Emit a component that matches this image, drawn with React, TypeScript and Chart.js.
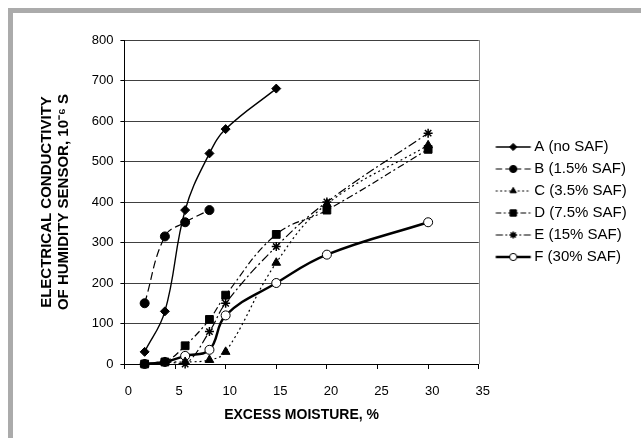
import React, { useEffect, useRef } from 'react';
import { Chart, registerables } from 'chart.js';

Chart.register(...registerables);

// ---- data ----
const xA = [2, 4, 6, 8.4, 10, 15];
const yA = [30, 130, 380, 520, 580, 680];
const xB = [2, 4, 6, 8.4];
const yB = [150, 315, 350, 380];
const xAll = [2, 4, 6, 8.4, 10, 15, 20, 30];
const yC = [0, 5, 5, 10, 30, 250, 395, 540];
const yD = [0, 5, 45, 110, 170, 320, 380, 530];
const yE = [0, 5, 0, 80, 150, 290, 400, 570];
const yF = [0, 5, 20, 35, 120, 200, 270, 350];
const seriesLabels = ['A (no SAF)', 'B (1.5% SAF)', 'C (3.5% SAF)', 'D (7.5% SAF)', 'E (15% SAF)', 'F (30% SAF)'];
const xTitle = 'EXCESS MOISTURE, %';
const yTitle = ['ELECTRICAL CONDUCTIVITY', 'OF HUMIDITY SENSOR, 10\u207B\u2076 S'];

const pts = (xs: number[], ys: number[]) => xs.map((x, i) => ({ x, y: ys[i] }));

type Style = { dash: number[]; width: number; marker: string; fill: string; radius: number };
const styles: Style[] = [
  { dash: [], width: 1.4, marker: 'rectRot', fill: '#000', radius: 4.5 },
  { dash: [8, 4], width: 1.2, marker: 'circle', fill: '#000', radius: 4.5 },
  { dash: [2, 3], width: 1.2, marker: 'triangle', fill: '#000', radius: 5 },
  { dash: [7, 3, 2, 3], width: 1.2, marker: 'rect', fill: '#000', radius: 5.5 },
  { dash: [9, 3, 2, 3], width: 1.2, marker: 'star', fill: '#000', radius: 4.5 },
  { dash: [], width: 2.4, marker: 'circle', fill: '#fff', radius: 4.5 },
];

function drawMarker(g: CanvasRenderingContext2D, marker: string, x: number, y: number, r: number, fill: string) {
  g.save();
  g.setLineDash([]);
  g.fillStyle = fill;
  g.strokeStyle = '#000';
  g.lineWidth = 1;
  g.beginPath();
  if (marker === 'circle') {
    g.arc(x, y, r, 0, Math.PI * 2);
    g.fill();
    g.stroke();
  } else if (marker === 'rectRot') {
    g.moveTo(x, y - r);
    g.lineTo(x + r, y);
    g.lineTo(x, y + r);
    g.lineTo(x - r, y);
    g.closePath();
    g.fill();
    g.stroke();
  } else if (marker === 'rect') {
    const s = r * Math.SQRT1_2;
    g.rect(x - s, y - s, 2 * s, 2 * s);
    g.fill();
    g.stroke();
  } else if (marker === 'triangle') {
    g.moveTo(x, y - r);
    g.lineTo(x + r * 0.866, y + r * 0.5);
    g.lineTo(x - r * 0.866, y + r * 0.5);
    g.closePath();
    g.fill();
    g.stroke();
  } else if (marker === 'star') {
    g.lineWidth = 1.5;
    g.moveTo(x, y - r); g.lineTo(x, y + r);
    g.moveTo(x - r, y); g.lineTo(x + r, y);
    const d = r * Math.SQRT1_2;
    g.moveTo(x - d, y - d); g.lineTo(x + d, y + d);
    g.moveTo(x - d, y + d); g.lineTo(x + d, y - d);
    g.stroke();
  }
  g.restore();
}

function makeIcon(st: Style): HTMLCanvasElement {
  const c = document.createElement('canvas');
  c.width = 60;
  c.height = 14;
  const g = c.getContext('2d')!;
  g.strokeStyle = '#000';
  g.lineWidth = st.width;
  g.setLineDash(st.dash.length ? st.dash.map((v) => Math.max(v * 0.8, 2)) : []);
  g.beginPath();
  g.moveTo(19.5, 7);
  g.lineTo(54.5, 7);
  g.stroke();
  drawMarker(g, st.marker, 37, 7, st.marker === 'rect' ? 4.5 : 3.6, st.fill);
  return c;
}

const plotFrame = {
  id: 'plotFrame',
  beforeDatasetsDraw(chart: any) {
    const { ctx, chartArea } = chart;
    ctx.save();
    ctx.strokeStyle = '#8a8a8a';
    ctx.lineWidth = 1;
    ctx.beginPath();
    ctx.moveTo(Math.round(chartArea.right) + 0.5, chartArea.top);
    ctx.lineTo(Math.round(chartArea.right) + 0.5, chartArea.bottom);
    ctx.stroke();
    ctx.restore();
  },
};

export default function App() {
  const ref = useRef<HTMLCanvasElement | null>(null);

  useEffect(() => {
    if (!ref.current) return;
    Chart.defaults.font.family = "'Liberation Sans', Arial, sans-serif";
    Chart.defaults.color = '#000';
    const data = [pts(xA, yA), pts(xB, yB), pts(xAll, yC), pts(xAll, yD), pts(xAll, yE), pts(xAll, yF)];
    const icons = styles.map(makeIcon);
    const chart = new Chart(ref.current, {
      type: 'line',
      data: {
        datasets: data.map((d, i) => ({
          label: seriesLabels[i],
          data: d,
          borderColor: '#000',
          backgroundColor: styles[i].fill,
          borderWidth: styles[i].width,
          borderDash: styles[i].dash,
          pointStyle: styles[i].marker as any,
          pointRadius: styles[i].radius,
          pointBorderWidth: styles[i].marker === 'star' ? 1.5 : 1,
          pointBorderColor: '#000',
          pointBackgroundColor: styles[i].fill,
          tension: 0.4,
          clip: false as any,
          fill: false,
        })),
      },
      options: {
        responsive: true,
        maintainAspectRatio: false,
        animation: false,
        layout: { padding: { top: 27, right: 7, bottom: 0, left: 0 } },
        plugins: {
          tooltip: { enabled: false },
          legend: {
            position: 'right',
            align: 'center',
            fullSize: false,
            labels: {
              color: '#000',
              font: { size: 15 },
              padding: 7,
              usePointStyle: true,
              pointStyleWidth: 41,
              generateLabels: (ch: any) => {
                const items = (Chart.defaults.plugins.legend.labels as any).generateLabels(ch);
                return items.map((it: any, i: number) => ({ ...it, pointStyle: icons[i], lineWidth: 0 }));
              },
            },
          },
        },
        scales: {
          x: {
            type: 'linear',
            min: 0,
            max: 35,
            ticks: { stepSize: 5, color: '#000', font: { size: 13 }, padding: 15, labelOffset: 4, autoSkip: false, maxRotation: 0 },
            grid: { drawOnChartArea: false, drawTicks: true, tickLength: 5, tickColor: '#000', color: '#000' },
            border: { color: '#000', width: 1 },
            title: { display: true, text: xTitle, color: '#000', font: { size: 14, weight: 'bold' }, padding: { top: 0, bottom: 14.6 } },
            afterFit: (s: any) => { s.height = 74; },
          },
          y: {
            type: 'linear',
            min: 0,
            max: 800,
            ticks: { stepSize: 100, color: '#000', font: { size: 13 }, padding: 7 },
            grid: { color: '#404040', lineWidth: 1, tickLength: 4, tickColor: '#000' },
            border: { color: '#000', width: 1 },
            title: { display: true, text: yTitle, color: '#000', font: { size: 15, weight: 'bold', lineHeight: 1.1 }, padding: { top: 26, bottom: 0 } },
            afterFit: (s: any) => { s.width = 111.4; },
          },
        },
      } as any,
      plugins: [plotFrame],
    });
    return () => chart.destroy();
  }, []);

  return (
    <div
      style={{
        position: 'absolute',
        left: 8,
        top: 8,
        width: 633,
        height: 430,
        boxSizing: 'border-box',
        borderTop: '5px solid #ababab',
        borderLeft: '5px solid #ababab',
        background: '#fff',
      }}
    >
      <div style={{ position: 'relative', width: 628, height: 425 }}>
        <canvas ref={ref} />
      </div>
    </div>
  );
}
